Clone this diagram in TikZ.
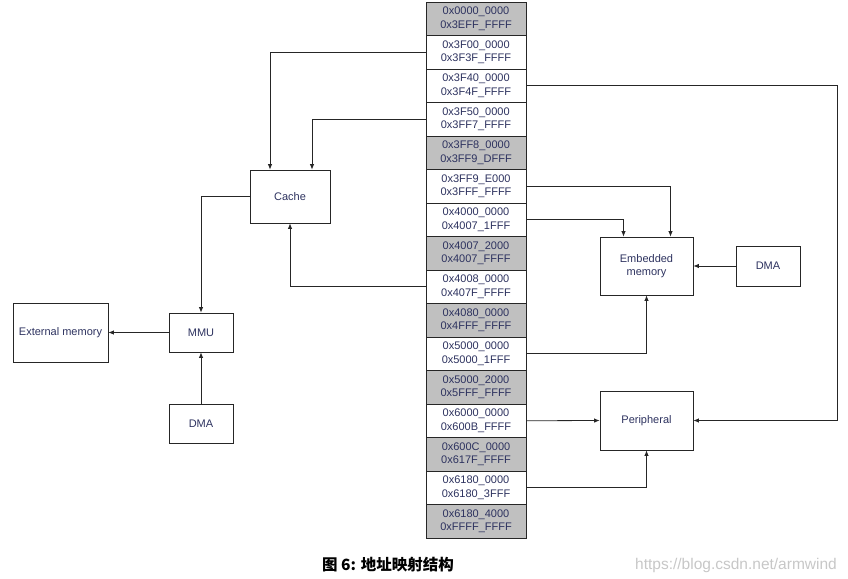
\documentclass[tikz,border=0pt]{standalone}
\usepackage{fontspec}
\setmainfont{Liberation Sans}
\newfontfamily\cjk{Noto Sans CJK SC}
\usetikzlibrary{arrows.meta}
\definecolor{labelblue}{RGB}{45,50,95}
\definecolor{resgray}{RGB}{192,192,192}
\tikzset{
  memrow/.style={draw=black!85, line width=0.8pt, minimum width=100pt, minimum height=33.5pt,
    inner sep=0pt, align=center, text=labelblue, font=\fontsize{11}{13.5}\selectfont},
  unit/.style={draw=black!85, line width=0.8pt, inner sep=0pt, align=center,
    text=labelblue, font=\fontsize{11}{13.5}\selectfont},
  link/.style={draw=black!85, line width=0.8pt, -{Latex[length=5.5pt,width=4.5pt]}},
  plain/.style={draw=black!85, line width=0.8pt}
}
\begin{document}
\begin{tikzpicture}[x=1pt, y=-1pt]
\useasboundingbox (0,0) rectangle (848,578);

% the memory map, top to bottom
\foreach \lo/\hi/\fc [count=\i] in {
  0x0000\_0000/0x3EFF\_FFFF/resgray,
  0x3F00\_0000/0x3F3F\_FFFF/white,
  0x3F40\_0000/0x3F4F\_FFFF/white,
  0x3F50\_0000/0x3FF7\_FFFF/white,
  0x3FF8\_0000/0x3FF9\_DFFF/resgray,
  0x3FF9\_E000/0x3FFF\_FFFF/white,
  0x4000\_0000/0x4007\_1FFF/white,
  0x4007\_2000/0x4007\_FFFF/resgray,
  0x4008\_0000/0x407F\_FFFF/white,
  0x4080\_0000/0x4FFF\_FFFF/resgray,
  0x5000\_0000/0x5000\_1FFF/white,
  0x5000\_2000/0x5FFF\_FFFF/resgray,
  0x6000\_0000/0x600B\_FFFF/white,
  0x600C\_0000/0x617F\_FFFF/resgray,
  0x6180\_0000/0x6180\_3FFF/white,
  0x6180\_4000/0xFFFF\_FFFF/resgray}
  \node[memrow, fill=\fc] (r\i) at (476,{2+(\i-0.5)*33.5}) {\lo\\\hi};

% the blocks
\node[unit, minimum width=80pt, minimum height=53pt] (cache) at (290,196.5) {Cache};
\node[unit, minimum width=64pt, minimum height=39pt] (mmu) at (201,332.5) {MMU};
\node[unit, minimum width=95pt, minimum height=59pt] (ext) at (60.5,332.5) {External memory};
\node[unit, minimum width=64pt, minimum height=39pt] (dmal) at (201,423.5) {DMA};
\node[unit, minimum width=93pt, minimum height=58pt] (emb) at (646.5,266) {Embedded\\memory};
\node[unit, minimum width=64pt, minimum height=40pt] (dmar) at (768,266) {DMA};
\node[unit, minimum width=93pt, minimum height=59pt] (peri) at (646.5,420.5) {Peripheral};

% links to the cache
\draw[link] (r2.west) -| ([xshift=-20pt]cache.north);
\draw[link] (r4.west) -| ([xshift=22pt]cache.north);
\draw[link] (r9.west) -| (cache.south);
\draw[link] (cache.west) -| (mmu.north);
\draw[link] (mmu.west) -- (ext.east);
\draw[link] (dmal.north) -- (mmu.south);

% links to the embedded memory
\draw[link] (r6.east) -| ([xshift=24pt]emb.north);
\draw[link] (r7.east) -| ([xshift=-23pt]emb.north);
\draw[link] (r11.east) -| (emb.south);
\draw[link] (dmar.west) -- (emb.east);

% links to the peripheral
\draw[link] (r3.east) -| ([xshift=144pt]peri.east) -- (peri.east);
\draw[link] (r13.east) -- (peri.west);
\draw[link] (r15.east) -| (peri.south);

% caption and watermark
\node[anchor=west, inner sep=0pt, font=\cjk\bfseries\fontsize{15.5}{17}\selectfont] (caption) at (322,565) {图 6: 地址映射结构};
\node[anchor=west, inner sep=0pt, text=black!22, font=\fontsize{15.5}{17}\selectfont] (mark) at (635,565) {https://blog.csdn.net/armwind};
\end{tikzpicture}
\end{document}
